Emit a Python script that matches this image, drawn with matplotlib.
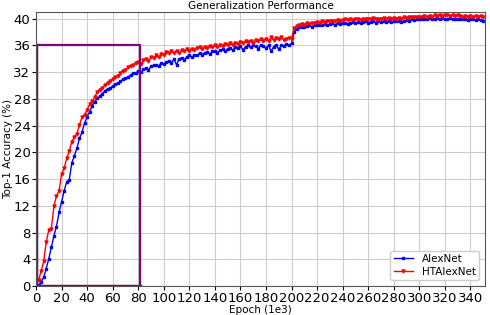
import matplotlib
matplotlib.use('Agg')
import matplotlib.pyplot as plt
import numpy as np

# test points every 2k iterations (x axis in 1e3)
epochs = np.arange(0, 351, 2)

alexnet = [
    0.0, 0.1, 0.6, 1.3, 2.6, 4.1, 5.8, 7.5, 8.9, 11.0,
    12.6, 14.2, 15.6, 15.9, 18.4, 19.5, 20.6, 22.1, 23.0, 24.4,
    25.3, 26.1, 27.0, 27.6, 28.1, 28.4, 28.8, 29.2, 29.5, 29.6,
    29.9, 30.2, 30.4, 30.6, 30.9, 31.1, 31.3, 31.5, 31.8, 31.9,
    32.1, 32.0, 32.4, 32.6, 32.3, 32.9, 33.0, 33.1, 32.9, 33.4,
    33.2, 33.5, 33.7, 33.4, 33.9, 33.1, 34.0, 34.1, 33.8, 34.3,
    34.5, 34.2, 34.6, 34.5, 34.8, 34.6, 34.9, 35.0, 34.7, 35.1,
    35.2, 34.9, 35.3, 35.4, 35.1, 35.5, 35.6, 35.3, 35.7, 35.6,
    35.9, 35.3, 35.8, 36.0, 35.7, 36.0, 35.9, 35.5, 36.1, 35.9,
    35.6, 36.0, 35.1, 35.8, 36.1, 35.4, 36.0, 35.9, 36.2, 36.0,
    36.3, 38.0, 38.5, 38.7, 38.8, 38.8, 38.9, 39.0, 38.8, 39.0,
    39.1, 39.0, 39.1, 39.2, 39.0, 39.2, 39.3, 39.1, 39.3, 39.2,
    39.4, 39.3, 39.2, 39.4, 39.5, 39.3, 39.5, 39.4, 39.5, 39.6,
    39.4, 39.5, 39.6, 39.4, 39.6, 39.5, 39.6, 39.5, 39.7, 39.5,
    39.6, 39.7, 39.6, 39.5, 39.7, 39.8, 39.7, 39.9, 39.8, 39.9,
    40.0, 39.9, 40.0, 39.9, 40.1, 40.0, 39.9, 40.1, 40.0, 40.1,
    40.0, 39.9, 40.1, 40.0, 39.9, 40.0, 39.9, 40.0, 39.9, 39.8,
    40.0, 39.9, 39.8, 40.0, 39.8, 39.7,
]

htalexnet = [
    0.0, 0.9, 2.2, 3.7, 6.6, 8.4, 8.6, 11.9, 13.5, 14.2,
    16.8, 17.6, 19.1, 20.2, 21.6, 22.3, 22.8, 24.1, 25.3, 25.6,
    26.4, 27.2, 27.7, 28.3, 29.1, 29.4, 29.7, 30.1, 30.4, 30.7,
    30.9, 31.3, 31.4, 31.9, 32.2, 32.3, 32.7, 32.9, 33.1, 33.3,
    33.5, 33.2, 33.8, 33.9, 33.6, 34.3, 34.1, 34.5, 34.2, 34.7,
    34.6, 35.0, 34.8, 35.1, 34.9, 35.2, 34.8, 35.3, 35.1, 35.4,
    35.2, 35.5, 35.3, 35.6, 35.7, 35.4, 35.8, 35.6, 35.9, 35.7,
    36.0, 35.8, 36.1, 35.9, 36.2, 36.0, 36.3, 36.1, 36.4, 36.2,
    36.5, 36.3, 36.6, 36.5, 36.7, 36.4, 36.8, 36.6, 36.9, 36.7,
    37.0, 36.6, 37.2, 36.8, 37.1, 36.9, 37.2, 36.8, 37.0, 37.1,
    37.0, 38.6, 38.9, 39.0, 39.2, 39.1, 39.3, 39.2, 39.4, 39.3,
    39.5, 39.4, 39.6, 39.5, 39.6, 39.7, 39.6, 39.7, 39.8, 39.7,
    39.8, 39.9, 39.8, 39.9, 39.8, 40.0, 39.9, 39.8, 40.0, 39.9,
    40.0, 39.9, 40.1, 40.0, 39.9, 40.0, 40.1, 40.0, 40.1, 40.0,
    40.1, 40.0, 40.1, 40.0, 40.2, 40.1, 40.2, 40.3, 40.2, 40.3,
    40.2, 40.3, 40.4, 40.3, 40.4, 40.3, 40.5, 40.4, 40.5, 40.4,
    40.5, 40.6, 40.4, 40.5, 40.4, 40.5, 40.4, 40.3, 40.4, 40.3,
    40.4, 40.3, 40.4, 40.3, 40.4, 40.3,
]

# highlighted region (epoch, accuracy)
box_x = 81
box_y = 36

fig = plt.figure(figsize=(4.9, 3.15), dpi=100)
ax = fig.add_axes([0.0735, 0.092, 0.9165, 0.87])

ax.plot(epochs, alexnet, color='blue', marker='s', markersize=2, linewidth=1, label='AlexNet')
ax.plot(epochs, htalexnet, color='red', marker='v', markersize=2.2, linewidth=1, label='HTAlexNet')

ax.plot([0, box_x, box_x], [box_y, box_y, 0], color='purple', linewidth=1.6)
ax.plot([0, 0], [0, box_y], color='purple', linewidth=2.5)
ax.plot([0, box_x], [0, 0], color='purple', linewidth=2.5)

ax.set_xlim(0, 351.5)
ax.set_ylim(0, 41)
ax.set_xticks(np.arange(0, 341, 20))
ax.set_yticks(np.arange(0, 41, 4))
ax.tick_params(labelsize=9.5, length=3, pad=1)
ax.grid(True, color='#cccccc', linewidth=0.8)
ax.set_axisbelow(True)
for s in ax.spines.values():
    s.set_color('#555555')

ax.set_title('Generalization Performance', fontsize=7.5, pad=2)
ax.set_xlabel('Epoch (1e3)', fontsize=7.5, labelpad=0)
ax.set_ylabel('Top-1 Accuracy (%)', fontsize=7.5)
ax.yaxis.set_label_coords(-0.05, 0.5)
ax.legend(loc='lower right', fontsize=7.5, numpoints=1, framealpha=1,
          labelspacing=0.25, borderpad=0.3, handlelength=1.9, borderaxespad=0.6)

plt.savefig('out.png', dpi=100)
